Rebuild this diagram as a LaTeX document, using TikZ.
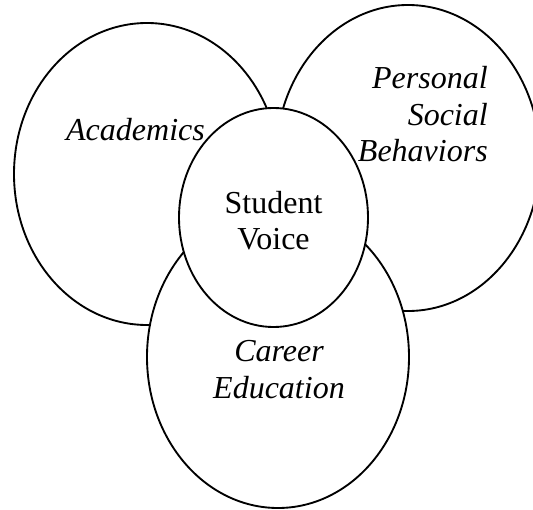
\documentclass[tikz,border=0pt]{standalone}
\usepackage{fontspec}
\setmainfont{Liberation Serif}
\usetikzlibrary{shapes.geometric}
\begin{document}
\begin{tikzpicture}[x=0.75pt,y=-0.75pt,
  circ/.style={ellipse,draw=black,fill=white,line width=1.4pt,inner sep=0pt},
  lbl/.style={inner sep=0pt,font=\fontsize{24}{27.75}\selectfont}]
\useasboundingbox (0,0) rectangle (533,510);
\node[circ,minimum width=199.5pt,minimum height=226.5pt] (acad) at (147,174) {};
\node[circ,minimum width=198pt,minimum height=229.5pt] (pers) at (408,158) {};
\node[circ,minimum width=196.5pt,minimum height=226.5pt] (career) at (278,357) {};
\node[circ,minimum width=141.75pt,minimum height=164.25pt] (voice) at (273.5,217.5) {};
\node[lbl,anchor=base] (tacad) at (135.5,141) {\itshape Academics};
\node[lbl,anchor=base east,align=right] (tpers) at (488,162) {\itshape Personal\\\itshape Social\\\itshape Behaviors};
\node[lbl,anchor=base,align=center] (tvoice) at (273.5,250) {Student\\Voice};
\node[lbl,anchor=base,align=center] (tcareer) at (279,398) {\itshape Career\\\itshape Education};
\end{tikzpicture}
\end{document}
